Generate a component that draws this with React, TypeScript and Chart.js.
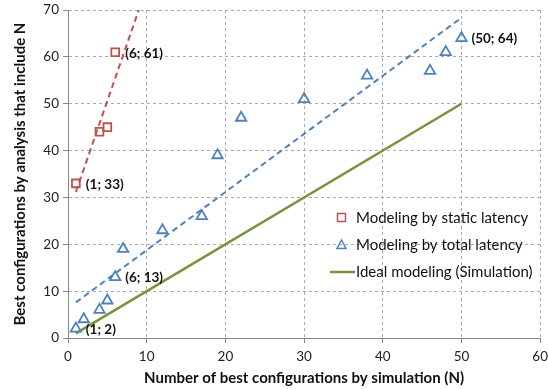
import React, { useEffect, useRef } from "react";
import { Chart, registerables } from "chart.js";

Chart.register(...registerables);

const staticX = [1, 4, 5, 6];
const staticY = [33, 44, 45, 61];
const totalX = [1, 2, 4, 5, 6, 7, 12, 17, 19, 22, 30, 38, 46, 48, 50];
const totalY = [2, 4, 6, 8, 13, 19, 23, 26, 39, 47, 51, 56, 57, 61, 64];
const idealX = [1, 50];
const idealY = [1, 50];
const staticLabelIdx = [0, 3];
const totalLabelIdx = [0, 4, 14];
const legendLabels = [
  "Modeling by static latency",
  "Modeling by total latency",
  "Ideal modeling (Simulation)",
];

const RED = "#C0504D";
const BLUE = "#4F81BD";
const GREEN = "#77933C";
const FONT = "Lato, 'Open Sans', sans-serif";

function fit(xs: number[], ys: number[]) {
  const n = xs.length;
  const mx = xs.reduce((a, b) => a + b, 0) / n;
  const my = ys.reduce((a, b) => a + b, 0) / n;
  let sxx = 0, sxy = 0;
  for (let i = 0; i < n; i++) {
    sxx += (xs[i] - mx) ** 2;
    sxy += (xs[i] - mx) * (ys[i] - my);
  }
  const m = sxy / sxx;
  return { m, b: my - m * mx };
}

const labelsPlugin = {
  id: "ptLabels",
  afterDatasetsDraw(chart: any) {
    const ctx = chart.ctx;
    ctx.save();
    ctx.font = `bold 13.5px ${FONT}`;
    ctx.fillStyle = "#111";
    ctx.textBaseline = "middle";
    ctx.textAlign = "left";
    const draw = (dsIndex: number, idxs: number[], xs: number[], ys: number[]) => {
      const meta = chart.getDatasetMeta(dsIndex);
      idxs.forEach((i) => {
        const el = meta.data[i];
        ctx.fillText(`(${xs[i]}; ${ys[i]})`, el.x + 10, el.y + 1);
      });
    };
    draw(0, staticLabelIdx, staticX, staticY);
    draw(1, totalLabelIdx, totalX, totalY);
    ctx.restore();
  },
};

const legendPlugin = {
  id: "inLegend",
  afterDraw(chart: any) {
    const ctx = chart.ctx;
    ctx.save();
    ctx.font = `15px ${FONT}`;
    ctx.fillStyle = "#111";
    ctx.textBaseline = "middle";
    const tx = 356;
    const rows = [218, 245, 272];
    ctx.lineWidth = 1.5;
    ctx.strokeStyle = RED;
    ctx.strokeRect(337.5, rows[0] - 4.5, 8, 8);
    ctx.strokeStyle = BLUE;
    ctx.beginPath();
    ctx.moveTo(341.5, rows[1] - 5);
    ctx.lineTo(346, rows[1] + 3.5);
    ctx.lineTo(337, rows[1] + 3.5);
    ctx.closePath();
    ctx.stroke();
    ctx.strokeStyle = GREEN;
    ctx.lineWidth = 2.5;
    ctx.beginPath();
    ctx.moveTo(330, rows[2]);
    ctx.lineTo(355, rows[2]);
    ctx.stroke();
    legendLabels.forEach((t, i) => ctx.fillText(t, tx, rows[i]));
    ctx.restore();
  },
};

export default function App() {
  const ref = useRef<HTMLCanvasElement>(null);
  useEffect(() => {
    document.body.style.margin = "0";
    const staticPts = staticX.map((x, i) => ({ x, y: staticY[i] }));
    const totalPts = totalX.map((x, i) => ({ x, y: totalY[i] }));
    const idealPts = idealX.map((x, i) => ({ x, y: idealY[i] }));
    const rf = fit(staticX, staticY);
    const rx1 = (70 - rf.b) / rf.m;
    const redT = [
      { x: staticX[0], y: rf.m * staticX[0] + rf.b },
      { x: rx1, y: 70 },
    ];
    const bf = fit(totalX, totalY);
    const bx0 = totalX[0];
    const bx1 = totalX[totalX.length - 1];
    const blueT = [
      { x: bx0, y: bf.m * bx0 + bf.b },
      { x: bx1, y: bf.m * bx1 + bf.b },
    ];
    const gridCfg: any = {
      color: "#ababab",
      tickColor: "#868686",
      tickLength: 5,
      tickBorderDash: [],
      lineWidth: 1,
    };
    const chart = new Chart(ref.current!, {
      type: "scatter",
      data: {
        datasets: [
          {
            data: staticPts,
            pointStyle: "rect",
            pointRadius: 5.5,
            borderColor: RED,
            backgroundColor: "rgba(255,255,255,0)",
            pointBorderWidth: 1.8,
            showLine: false,
            order: 1,
          },
          {
            data: totalPts,
            pointStyle: "triangle",
            pointRadius: 6,
            borderColor: BLUE,
            backgroundColor: "rgba(255,255,255,0)",
            pointBorderWidth: 1.8,
            showLine: false,
            order: 1,
          },
          {
            data: idealPts,
            showLine: true,
            pointRadius: 0,
            borderColor: GREEN,
            borderWidth: 2.5,
            order: 3,
          },
          {
            data: redT,
            showLine: true,
            pointRadius: 0,
            borderColor: RED,
            borderWidth: 2,
            borderDash: [6, 4],
            order: 2,
          },
          {
            data: blueT,
            showLine: true,
            pointRadius: 0,
            borderColor: BLUE,
            borderWidth: 2,
            borderDash: [6, 4],
            order: 2,
          },
        ] as any,
      },
      options: {
        animation: false,
        responsive: false,
        maintainAspectRatio: false,
        layout: { padding: { top: 10, right: 6, left: 0, bottom: 0 } },
        plugins: {
          legend: { display: false },
          tooltip: { enabled: false },
        },
        scales: {
          x: {
            type: "linear",
            min: 0,
            max: 60,
            ticks: { stepSize: 10, color: "#222", font: { family: FONT, size: 13.5 }, padding: 6 },
            grid: gridCfg,
            border: { color: "#868686", dash: [3, 3] },
            title: {
              display: true,
              text: "Number of best configurations by simulation (N)",
              font: { family: FONT, size: 15, weight: "bold" },
              color: "#111",
              padding: { top: 0, bottom: 2 },
            },
            afterFit: (s: any) => {
              s.height = 51;
              s.paddingLeft = 0;
              s.paddingRight = 0;
            },
          },
          y: {
            type: "linear",
            min: 0,
            max: 70,
            ticks: { stepSize: 10, color: "#222", font: { family: FONT, size: 13.5 }, padding: 4 },
            grid: gridCfg,
            border: { color: "#868686", dash: [3, 3] },
            title: {
              display: true,
              text: "Best configurations by analysis that include N",
              font: { family: FONT, size: 15, weight: "bold" },
              color: "#111",
              padding: { top: 11, bottom: 0 },
            },
            afterFit: (s: any) => {
              s.width = 68;
              s.paddingTop = 0;
              s.paddingBottom = 0;
            },
          },
        },
      } as any,
      plugins: [labelsPlugin, legendPlugin],
    });
    return () => chart.destroy();
  }, []);
  return (
    <div style={{ width: 548, height: 389 }}>
      <canvas ref={ref} width={548} height={389} style={{ display: "block" }} />
    </div>
  );
}
